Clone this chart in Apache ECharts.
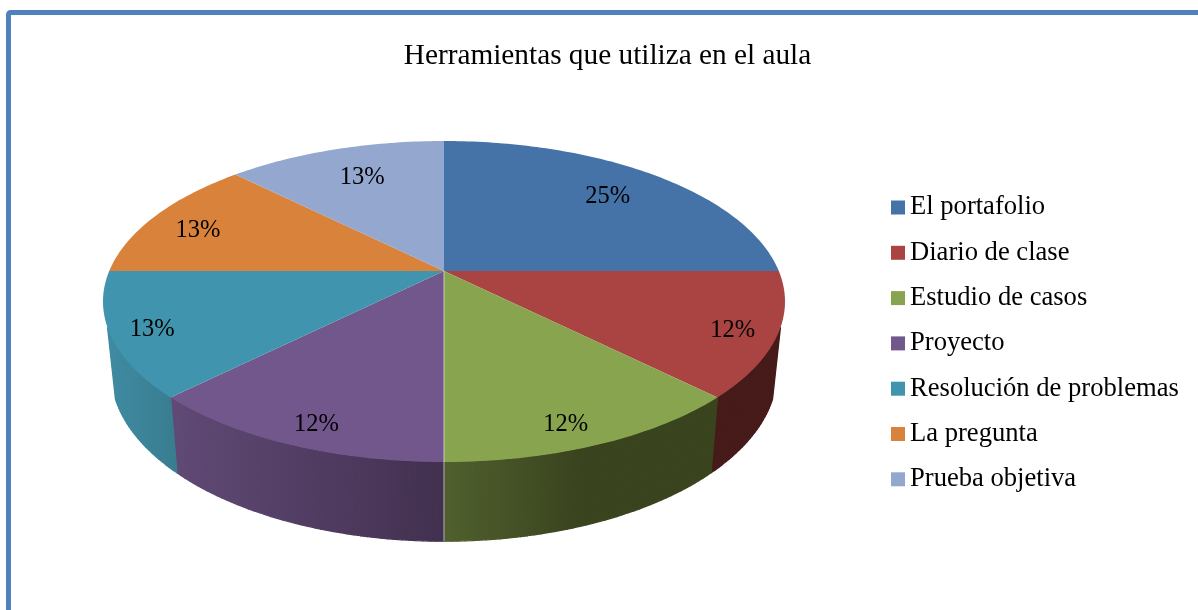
<!DOCTYPE html>
<html><head><meta charset="utf-8">
<style>html,body{margin:0;padding:0;background:#fff}#c{width:1198px;height:610px}</style>
<script src="https://cdn.jsdelivr.net/npm/echarts@6/dist/echarts.min.js"></script>
</head><body><div id="c"></div>
<script>
const categories = ['El portafolio','Diario de clase','Estudio de casos','Proyecto','Resolución de problemas','La pregunta','Prueba objetiva'];
const values = [25,12.5,12.5,12.5,12.5,12.5,12.5];
const pctLabels = ['25%','12%','12%','12%','13%','13%','13%'];
const colors = ['#4572a7','#a94442','#89a44e','#71578c','#4094ad','#d9823c','#93a7cf'];
const wallColors = [
 ['#26405e','#26405e'],['#451a18','#451a18'],['#50602d','#39431e'],
 ['#604a76','#42304f'],['#3f8ca4','#397c8f'],['#7a4a22','#7a4a22'],['#55617a','#55617a']];
const labelRadius = [.77,.878,.883,.888,.884,.826,.749];
const labelShift = [-.5,1,2.2,-1.3,-.4,-2.2,.8];

const persp = -0.19;
const top_ = {cx:444, cy:301.5, rx:341, ry:160.5};
const low_ = {cx:444, cy:371.5, rx:333, ry:169.7};
const wallVisibleFrom = 110, wallVisibleTo = 250;
function proj(e, tDeg, r){
  const t = tDeg*Math.PI/180, u = r*Math.sin(t), v = -r*Math.cos(t);
  const d = 1+persp*v, k = Math.sqrt(1-persp*persp);
  return [e.cx+e.rx*u*k/d, e.cy+e.ry*(v+persp)/d];
}
const total = values.reduce((a,b)=>a+b,0);
const starts = []; let acc = 0;
values.forEach(v=>{starts.push(acc/total*360); acc+=v;});

function renderSlice(i){
  return function(params, api){
    const sweep = api.value(0)/total*360, a0 = starts[i], a1 = a0+sweep;
    const n = Math.ceil(sweep), up=[], lo=[], ang=[];
    for(let k=0;k<=n;k++){const t=a0+sweep*k/n; ang.push(t); up.push(proj(top_,t,1)); lo.push(proj(low_,t,1));}
    const xs = up.concat(lo).map(p=>p[0]);
    const xMin = Math.min(...xs), xMax = Math.max(...xs);
    const wc = wallColors[i];
    const stops = i===2 ? [{offset:0,color:wc[0]},{offset:.5,color:wc[1]},{offset:1,color:wc[1]}]
                        : [{offset:0,color:wc[0]},{offset:1,color:wc[1]}];
    const grad = new echarts.graphic.LinearGradient(xMin,0,xMax,0,stops,true);
    const c = proj(top_,0,0);
    const mid = (a0+a1)/2+labelShift[i];
    const lp = proj(top_,mid,labelRadius[i]);
    const children = [];
    for(let k=0;k<n;k++){
      if(ang[k]<wallVisibleFrom || ang[k+1]>wallVisibleTo) continue;
      children.push({type:'polygon',z2:1,shape:{points:[up[k],up[k+1],lo[k+1],lo[k]]},
        style:{fill:grad,stroke:grad,lineWidth:1.2,lineJoin:'round'}});
    }
    children.push(
      {type:'polygon',z2:5,shape:{points:[c].concat(up)},style:{fill:colors[i]}},
      {type:'text',z2:20,x:lp[0],y:lp[1]+2,style:{text:pctLabels[i],fill:'#000',
        font:'24.5px "Liberation Serif"',align:'center',verticalAlign:'middle'}}
    );
    if(Math.abs(a1-180)<1e-6){
      const b = proj(low_,a1,1);
      children.push({type:'line',z2:10,shape:{x1:c[0],y1:c[1],x2:b[0],y2:b[1]},
        style:{stroke:'rgba(225,228,215,.75)',lineWidth:1}});
    }
    return {type:'group',children};
  };
}

const chart = echarts.init(document.getElementById('c'),null,{renderer:'canvas'});
chart.setOption({
  animation:false,
  backgroundColor:'#fff',
  title:{text:'Herramientas que utiliza en el aula',left:602.5,top:37,textAlign:'center',
    textStyle:{fontFamily:'Liberation Serif',fontSize:29.3,fontWeight:'normal',color:'#000'}},
  legend:{orient:'vertical',left:886,top:189,itemWidth:14,itemHeight:14,itemGap:18.3,icon:'rect',
    data:categories,selectedMode:false,
    textStyle:{fontFamily:'Liberation Serif',fontSize:26.6,color:'#000',lineHeight:27}},
  graphic:[{type:'rect',z:-1,shape:{x:8.5,y:12.5,width:1400,height:900,r:2},
    style:{fill:'none',stroke:'#4f81bd',lineWidth:5}}],
  series:categories.map((name,i)=>({
    type:'custom',name,coordinateSystem:'none',
    itemStyle:{color:colors[i]},
    renderItem:renderSlice(i),
    data:[[values[i]]],silent:true
  }))
});
</script></body></html>
